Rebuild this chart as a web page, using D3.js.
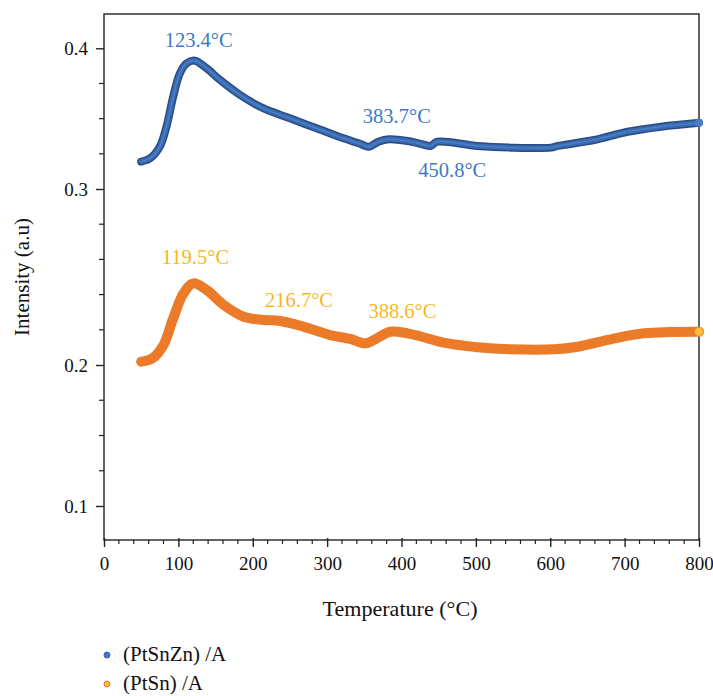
<!DOCTYPE html>
<html>
<head>
<meta charset="utf-8">
<script src="https://cdn.jsdelivr.net/npm/d3@7"></script>
<style>
  body { margin: 0; background: #fff; }
  svg text { font-family: "Liberation Serif", "DejaVu Serif", serif; }
</style>
</head>
<body>
<svg id="chart" width="713" height="696"></svg>
<script>
// temperatures (°C) and intensity
let zincTemp = [50, 62, 75, 84, 93, 102, 111, 122, 138, 156, 183, 214, 250, 286, 322, 345, 356, 369, 383, 408, 428, 439, 448, 502, 547, 601, 610, 659, 704, 749, 800];
let zincVal  = [0.3195, 0.3218, 0.3301, 0.3443, 0.3656, 0.3822, 0.3893, 0.3912, 0.3858, 0.3775, 0.3668, 0.3574, 0.3502, 0.3431, 0.3360, 0.3320, 0.3301, 0.3336, 0.3353, 0.3341, 0.3318, 0.3306, 0.3336, 0.3306, 0.3294, 0.3294, 0.3306, 0.3348, 0.3407, 0.3443, 0.3471];

let tinTemp = [50, 66, 80, 93, 107, 120, 138, 161, 188, 214, 237, 268, 304, 331, 352, 367, 385, 408, 426, 457, 502, 547, 605, 637, 681, 726, 800];
let tinVal  = [0.2019, 0.2041, 0.2114, 0.2265, 0.2407, 0.2464, 0.2426, 0.2341, 0.2274, 0.2256, 0.2250, 0.2218, 0.2170, 0.2148, 0.2123, 0.2152, 0.2189, 0.2180, 0.2162, 0.2127, 0.2101, 0.2089, 0.2089, 0.2104, 0.2146, 0.2180, 0.2189];

let seriesNames = ['(PtSnZn) /A', '(PtSn) /A'];

let xMajor = [0, 100, 200, 300, 400, 500, 600, 700, 800];
let yMajor = [0.1, 0.2, 0.3, 0.4];
let yMinor = [0.125, 0.15, 0.175, 0.22, 0.24, 0.26, 0.28, 0.325, 0.35, 0.375];

// peak labels and where their centres sit (in data units)
let peakText = ['123.4°C', '383.7°C', '450.8°C', '119.5°C', '216.7°C', '388.6°C'];
let peakTemp = [127.3, 393.7, 468.3, 123, 262.2, 401.3];
let peakVal  = [0.4009, 0.3467, 0.3083, 0.2574, 0.2331, 0.2265];
let peakSeries = [0, 0, 0, 1, 1, 1];

let svg = d3.select('#chart');
let plotLeft = 104, plotRight = 699, plotTop = 14, plotBottom = 540;

let x = d3.scaleLinear().domain([0, 800]).range([plotLeft, plotRight]);
// the original axis is not evenly spaced, so map it piece by piece
let y = d3.scaleLinear()
    .domain([0.075, 0.1, 0.2, 0.3, 0.4, 0.425])
    .range([plotBottom, 506, 365, 189, 48.3, plotTop]);

let ink = '#222';

// frame
svg.append('rect')
    .attr('x', plotLeft).attr('y', plotTop)
    .attr('width', plotRight - plotLeft).attr('height', plotBottom - plotTop)
    .attr('fill', 'none').attr('stroke', ink).attr('stroke-width', 1.4);

// x axis
let xAxis = d3.axisBottom(x).tickValues(xMajor).tickSize(7).tickPadding(10)
    .tickFormat(d3.format('d'));
let gx = svg.append('g').attr('transform', 'translate(0,' + plotBottom + ')').call(xAxis);
gx.select('.domain').remove();
gx.selectAll('line').attr('stroke', ink).attr('stroke-width', 1.4).attr('y1', -2);
gx.selectAll('text').attr('font-size', 19).attr('fill', '#111')
    .attr('font-family', '"Liberation Serif", serif');

let xMinor = d3.range(0, 801, 20).filter(d => d % 100 != 0);
svg.append('g').selectAll('line').data(xMinor).enter().append('line')
    .attr('x1', d => x(d)).attr('x2', d => x(d))
    .attr('y1', plotBottom).attr('y2', plotBottom + 4)
    .attr('stroke', ink).attr('stroke-width', 1.2);

// y axis
let yAxis = d3.axisLeft(y).tickValues(yMajor).tickSize(8).tickPadding(8)
    .tickFormat(d3.format('.1f'));
let gy = svg.append('g').attr('transform', 'translate(' + plotLeft + ',0)').call(yAxis);
gy.select('.domain').remove();
gy.selectAll('line').attr('stroke', ink).attr('stroke-width', 1.4);
gy.selectAll('text').attr('font-size', 19).attr('fill', '#111')
    .attr('font-family', '"Liberation Serif", serif');

svg.append('g').selectAll('line').data(yMinor).enter().append('line')
    .attr('x1', plotLeft - 5).attr('x2', plotLeft)
    .attr('y1', d => y(d)).attr('y2', d => y(d))
    .attr('stroke', ink).attr('stroke-width', 1.2);

// axis titles
svg.append('text')
    .attr('x', 400).attr('y', 616)
    .attr('text-anchor', 'middle').attr('font-size', 21).attr('fill', '#111')
    .attr('textLength', 155).attr('lengthAdjust', 'spacingAndGlyphs')
    .text('Temperature (°C)');
svg.append('text')
    .attr('transform', 'translate(29,277) rotate(-90)')
    .attr('text-anchor', 'middle').attr('font-size', 21).attr('fill', '#111')
    .text('Intensity (a.u)');

// curves
let line = d3.line()
    .x(d => x(d[0]))
    .y(d => y(d[1]))
    .curve(d3.curveCatmullRom.alpha(0.5));

let zincData = zincTemp.map((t, i) => [t, zincVal[i]]);
let tinData = tinTemp.map((t, i) => [t, tinVal[i]]);

svg.append('path').attr('d', line(tinData))
    .attr('fill', 'none').attr('stroke', '#EB7A29').attr('stroke-width', 10)
    .attr('stroke-linecap', 'round').attr('stroke-linejoin', 'round');

svg.append('path').attr('d', line(zincData))
    .attr('fill', 'none').attr('stroke', '#2A4C84').attr('stroke-width', 8)
    .attr('stroke-linecap', 'round').attr('stroke-linejoin', 'round');
svg.append('path').attr('d', line(zincData))
    .attr('fill', 'none').attr('stroke', '#3A6CB4').attr('stroke-width', 5)
    .attr('stroke-linecap', 'round').attr('stroke-linejoin', 'round');
svg.append('path').attr('d', line(zincData))
    .attr('fill', 'none').attr('stroke', '#5C8FD2').attr('stroke-width', 1.2)
    .attr('opacity', 0.6);

// end points
let lastZinc = zincData[zincData.length - 1];
let lastTin = tinData[tinData.length - 1];
svg.append('circle').attr('cx', x(lastZinc[0])).attr('cy', y(lastZinc[1])).attr('r', 4)
    .attr('fill', '#4A7FC4');
svg.append('circle').attr('cx', x(lastTin[0])).attr('cy', y(lastTin[1])).attr('r', 4.5)
    .attr('fill', '#FBBE3A').attr('stroke', '#E98A2C').attr('stroke-width', 1);

// peak labels
let labelColors = ['#3C7AC2', '#F6B81E'];
svg.append('g').selectAll('text').data(peakText).enter().append('text')
    .attr('x', (d, i) => x(peakTemp[i]))
    .attr('y', (d, i) => y(peakVal[i]))
    .attr('text-anchor', 'middle')
    .attr('font-size', 20.5)
    .attr('fill', (d, i) => labelColors[peakSeries[i]])
    .text(d => d);

// legend (pulled up a touch so the second row is not clipped)
let legendFill = ['#4472C4', '#FBBE3A'];
let legendStroke = ['#3B66B0', '#E9792A'];
let legend = svg.append('g').selectAll('g').data(seriesNames).enter().append('g')
    .attr('transform', (d, i) => 'translate(107,' + (655 + i * 29) + ')');
legend.append('circle').attr('r', 3)
    .attr('fill', (d, i) => legendFill[i])
    .attr('stroke', (d, i) => legendStroke[i]).attr('stroke-width', 1);
legend.append('text').attr('x', 16).attr('y', 5.5)
    .attr('font-size', 21).attr('fill', '#111')
    .text(d => d);
</script>
</body>
</html>
